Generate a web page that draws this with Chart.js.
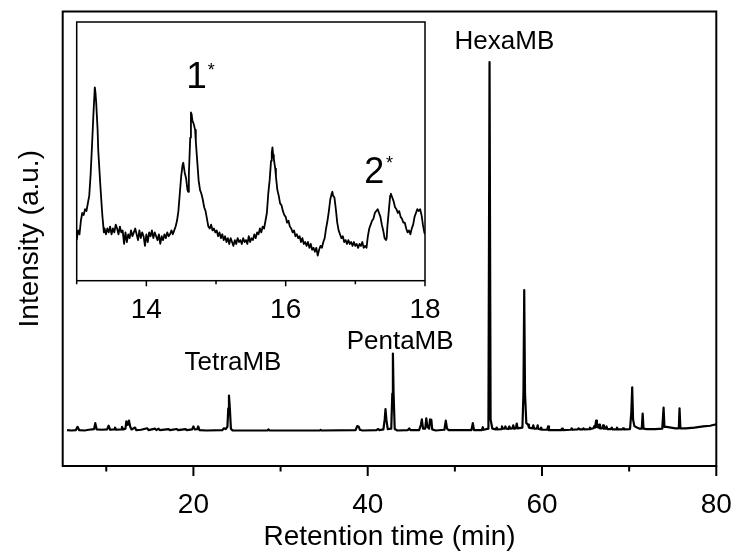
<!DOCTYPE html>
<html>
<head>
<meta charset="utf-8">
<script src="https://cdn.jsdelivr.net/npm/chart.js@4.4.1/dist/chart.umd.min.js"></script>
<style>
  html, body { margin: 0; padding: 0; background: #fff; }
  #wrap { position: relative; width: 737px; height: 555px; }
  #main { position: absolute; left: 0; top: 0; }
  #inset { position: absolute; left: 60px; top: 10px; }
</style>
</head>
<body>
<div id="wrap">
  <canvas id="main" width="737" height="555"></canvas>
  <canvas id="inset" width="390" height="310"></canvas>
</div>
<script>
// chromatogram (intensity scaled so HexaMB = 100)
const mainTime = [
  5.5, 6.0, 6.5, 6.7, 6.9, 7.5, 8.0, 8.6, 8.74, 8.9, 9.5, 10.1, 10.27, 10.45, 10.9, 11.0, 11.15,
  11.7, 11.8, 11.95, 12.2, 12.3, 12.45, 12.6, 12.75, 12.9, 13.3, 13.45, 14.0, 14.7, 14.85,
  15.6, 15.75, 16.0, 16.15, 17.15, 17.3, 18.1, 18.25, 19.1, 19.25, 19.85, 20.0, 20.15, 20.45,
  20.55, 20.7, 21.5, 23.3, 23.5, 23.7, 23.9, 24.0, 24.08, 24.18, 24.3, 24.5, 28.5, 28.6, 28.75,
  34.5, 34.6, 34.7, 38.6, 38.8, 38.95, 39.1, 39.4, 41.0, 41.2, 41.35, 41.8, 41.95, 42.04, 42.14,
  42.3, 42.7, 42.82, 42.89, 42.97, 43.1, 43.4, 44.6, 44.76, 44.9, 45.9, 46.1, 46.21, 46.35,
  46.6, 46.72, 46.85, 47.05, 47.15, 47.3, 47.4, 47.8, 48.8, 48.96, 49.1, 49.3, 51.9, 52.06, 52.2,
  53.1, 53.2, 53.3, 53.85, 53.98, 54.1, 54.3, 54.7, 54.8, 54.9, 55.3, 55.4, 55.5, 55.7, 55.8,
  55.9, 56.15, 56.25, 56.35, 56.6, 56.7, 56.8, 57.0, 57.1, 57.2, 57.75, 57.87, 57.96, 58.05,
  58.2, 58.4, 58.5, 58.9, 59.0, 59.1, 59.4, 59.5, 59.6, 59.85, 59.9, 60.0, 60.6, 60.7, 60.8,
  62.2, 62.3, 62.4, 63.3, 63.4, 63.5, 64.1, 64.2, 64.3, 64.7, 64.75, 64.85, 65.4, 65.5, 65.6,
  65.9, 66.0, 66.1, 66.2, 66.3, 66.45, 66.55, 66.65, 66.9, 67.0, 67.1, 67.3, 67.4, 67.5, 67.9,
  68.0, 68.1, 68.5, 68.6, 68.7, 69.2, 69.3, 69.4, 70.1, 70.25, 70.35, 70.45, 70.6, 70.9, 71.2,
  71.45, 71.55, 71.65, 72.0, 73.0, 73.8, 73.95, 74.05, 74.3, 74.8, 75.3, 75.7, 75.78, 75.88,
  76.5, 77.5, 78.5, 79.3, 80.0
];
const mainIntensity = [
  0.1, 0.0, 0.1, 1.0, 0.1, 0.0, 0.2, 0.4, 2.0, 0.3, 0.2, 0.3, 1.3, 0.2, 0.3, 0.8, 0.2,
  0.3, 1.0, 0.3, 0.5, 2.5, 1.5, 2.7, 1.0, 0.3, 0.8, 0.1, 0.2, 0.6, 0.1,
  0.5, 0.1, 0.5, 0.1, 0.4, 0.1, 0.4, 0.1, 0.4, 0.1, 0.3, 1.1, 0.3, 0.4,
  1.1, 0.1, 0.0, 0.1, 0.6, 0.4, 1.0, 6.0, 9.5, 6.0, 0.5, 0.0, 0.0, 0.3, 0.0,
  0.0, 0.2, 0.0, 0.1, 1.2, 1.1, 0.2, 0.0, 0.1, 0.4, 0.1, 0.3, 3.0, 5.8, 3.0,
  0.4, 0.5, 10, 20.9, 10, 0.4, 0.0, 0.1, 0.6, 0.1, 0.1, 1.5, 3.0, 0.5,
  0.5, 3.3, 1.0, 0.5, 3.0, 2.9, 0.3, 0.0, 0.2, 2.7, 0.5, 0.1, 0.1, 2.0, 0.1,
  0.1, 0.9, 0.2, 0.5, 100, 3.0, 0.5, 0.3, 0.8, 0.3, 0.4, 1.1, 0.5, 0.5, 1.1,
  0.5, 0.4, 1.1, 0.5, 0.6, 1.4, 0.5, 0.6, 1.9, 0.6, 0.8, 10, 38.1, 10,
  2.0, 1.6, 0.8, 0.6, 1.4, 0.5, 0.5, 1.4, 0.4, 0.3, 0.8, 0.2, 0.2, 1.1, 0.1,
  0.1, 0.5, 0.1, 0.2, 0.6, 0.2, 0.3, 0.6, 0.3, 0.3, 0.6, 0.3, 0.4, 0.8, 0.4,
  0.6, 1.2, 0.8, 2.7, 1.0, 0.8, 1.6, 0.6, 0.6, 1.4, 0.5, 0.5, 1.1, 0.4, 0.4,
  0.8, 0.3, 0.3, 0.8, 0.3, 0.3, 0.6, 0.3, 0.4, 5, 11.7, 3.0, 1.2, 0.8, 0.5,
  0.5, 4.6, 0.5, 0.4, 0.4, 0.5, 6.2, 1.0, 1.0, 0.8, 0.6, 0.6, 6.0, 0.6,
  0.6, 0.8, 1.1, 1.3, 1.7
];

// inset: zoom on 13-18 min (intensity scaled so first peak = 100)
const insetTime = [
  13.00, 13.02, 13.04, 13.06, 13.08, 13.10, 13.12, 13.14, 13.16, 13.18, 13.20, 13.22, 13.24,
  13.26, 13.27, 13.28, 13.30, 13.31, 13.33, 13.34, 13.36, 13.37, 13.39, 13.40, 13.42, 13.44,
  13.46, 13.48, 13.50, 13.52, 13.54, 13.56, 13.58, 13.60, 13.62, 13.64, 13.66, 13.68, 13.70,
  13.72, 13.74, 13.76, 13.78, 13.80, 13.82, 13.84, 13.86, 13.88, 13.90, 13.92, 13.94, 13.96,
  13.98, 14.00, 14.02, 14.04, 14.06, 14.08, 14.10, 14.12, 14.14, 14.16, 14.18, 14.20, 14.22,
  14.24, 14.26, 14.28, 14.30, 14.32, 14.34, 14.36, 14.38, 14.40, 14.42, 14.44, 14.46, 14.48,
  14.50, 14.52, 14.53, 14.55, 14.57, 14.59, 14.60, 14.61, 14.63, 14.64, 14.65, 14.66, 14.68,
  14.70, 14.71, 14.73, 14.75, 14.77, 14.79, 14.81, 14.83, 14.85, 14.87, 14.89, 14.91, 14.93,
  14.95, 14.97, 14.99, 15.01, 15.03, 15.05, 15.07, 15.09, 15.11, 15.13, 15.15, 15.17, 15.19,
  15.21, 15.23, 15.25, 15.27, 15.29, 15.31, 15.33, 15.35, 15.37, 15.39, 15.41, 15.43, 15.45,
  15.47, 15.49, 15.51, 15.53, 15.55, 15.57, 15.59, 15.61, 15.63, 15.65, 15.67, 15.69, 15.71,
  15.73, 15.75, 15.77, 15.79, 15.80, 15.81, 15.82, 15.83, 15.85, 15.86, 15.88, 15.90, 15.92,
  15.94, 15.96, 15.98, 16.00, 16.02, 16.04, 16.06, 16.08, 16.10, 16.12, 16.14, 16.16, 16.18,
  16.20, 16.22, 16.24, 16.26, 16.28, 16.30, 16.32, 16.34, 16.36, 16.38, 16.40, 16.42, 16.44,
  16.46, 16.48, 16.50, 16.52, 16.54, 16.56, 16.58, 16.60, 16.62, 16.64, 16.66, 16.67, 16.68,
  16.70, 16.72, 16.74, 16.76, 16.78, 16.80, 16.82, 16.84, 16.86, 16.88, 16.90, 16.92, 16.94,
  16.96, 16.98, 17.00, 17.02, 17.04, 17.06, 17.08, 17.10, 17.12, 17.14, 17.16, 17.18, 17.20,
  17.22, 17.24, 17.26, 17.28, 17.30, 17.32, 17.34, 17.36, 17.38, 17.40, 17.42, 17.44, 17.45,
  17.46, 17.48, 17.50, 17.51, 17.53, 17.55, 17.57, 17.59, 17.61, 17.63, 17.65, 17.67, 17.69,
  17.71, 17.73, 17.75, 17.77, 17.79, 17.81, 17.83, 17.85, 17.87, 17.89, 17.91, 17.93, 17.95,
  17.97, 17.99, 18.00
];
const insetIntensity = [
  21, 26, 24, 31, 35, 34, 37, 36, 40, 44, 55, 70, 86,
  100, 97, 92, 78, 67, 55, 49, 38, 33, 25, 27, 24, 27,
  25, 28, 24, 27, 25, 29, 27, 24, 28, 25, 26, 19, 25,
  20, 24, 22, 26, 23, 25, 27, 24, 21, 26, 22, 25, 23,
  18, 24, 20, 25, 23, 26, 22, 25, 23, 21, 24, 19, 23,
  21, 24, 22, 25, 23, 24, 26, 24, 26, 28, 31, 36, 45,
  54, 60, 61, 56, 53, 47, 46, 55, 74, 87, 86, 83, 81,
  78, 72, 62, 52, 47, 45, 42, 38, 36, 32, 28, 27, 29,
  26, 27, 25, 26, 23, 25, 22, 24, 21, 23, 20, 22, 19,
  22, 20, 18, 21, 19, 22, 20, 21, 19, 22, 20, 21, 19,
  23, 20, 22, 21, 24, 22, 25, 24, 27, 25, 28, 27, 31,
  35, 45, 52, 62, 66, 69, 65, 63, 58, 54, 47, 44, 40,
  39, 36, 34, 33, 30, 31, 28, 27, 25, 26, 23, 24, 22,
  23, 20, 22, 19, 20, 18, 20, 17, 19, 16, 17, 15, 17,
  13, 16, 18, 17, 20, 22, 27, 31, 36, 42, 45, 46, 44,
  43, 37, 30, 26, 24, 22, 23, 20, 21, 19, 21, 19, 20,
  18, 20, 18, 19, 17, 19, 18, 20, 17, 18, 17, 23, 27,
  29, 31, 32, 35, 36, 37, 35, 33, 29, 26, 22, 21, 22,
  28, 36, 44, 45, 43, 41, 38, 37, 35, 36, 33, 32, 30,
  30, 27, 25, 26, 24, 27, 29, 33, 35, 37, 36, 37, 34,
  29, 25, 24
];

const mainMajor = [20, 40, 60, 80];
const mainMinor = [10, 30, 50, 70];
const insetMajor = [14, 16, 18];
const insetMinor = [13, 15, 17];

const peakNames = ['TetraMB', 'PentaMB', 'HexaMB'];
const peakNameTime = [24.54, 43.72, 55.69];
const peakNameLevel = [18.45, 24.15, 105.4];

const insetMarks = ['1', '*', '2', '*'];
const insetMarkTime = [14.72, 14.93, 17.27, 17.49];
const insetMarkLevel = [104.7, 108.4, 55.7, 60.3];
const insetMarkSize = [37, 18, 36, 18];

const FONT = '"Liberation Sans", Arial, Helvetica, sans-serif';
Chart.defaults.font.family = FONT;
Chart.defaults.color = '#000';

function points(xs, ys) {
  return xs.map((t, i) => ({ x: t, y: ys[i] }));
}

// keep the end labels from pushing the plot area inwards
function noSidePadding(s, h) {
  s.height = h;
  s.paddingLeft = 0;
  s.paddingRight = 0;
}

// box round the plot area plus outward ticks on the bottom axis
function frameTicks(major, minor, lineWidth, majorLen, minorLen) {
  return {
    id: 'frameTicks',
    afterDraw(chart) {
      const { ctx, chartArea: a } = chart;
      const x = chart.scales.x;
      ctx.save();
      ctx.strokeStyle = '#000';
      ctx.lineWidth = lineWidth;
      ctx.beginPath();
      major.forEach(v => {
        const p = x.getPixelForValue(v);
        ctx.moveTo(p, a.bottom);
        ctx.lineTo(p, a.bottom + majorLen);
      });
      minor.forEach(v => {
        const p = x.getPixelForValue(v);
        ctx.moveTo(p, a.bottom);
        ctx.lineTo(p, a.bottom + minorLen);
      });
      ctx.stroke();
      ctx.strokeRect(a.left, a.top, a.right - a.left, a.bottom - a.top);
      ctx.restore();
    }
  };
}

function textMarks(texts, xs, ys, sizes) {
  return {
    id: 'textMarks',
    afterDatasetsDraw(chart) {
      const { ctx } = chart;
      const { x, y } = chart.scales;
      ctx.save();
      ctx.fillStyle = '#000';
      ctx.textAlign = 'center';
      ctx.textBaseline = 'middle';
      texts.forEach((t, i) => {
        ctx.font = sizes[i] + 'px ' + FONT;
        ctx.fillText(t, x.getPixelForValue(xs[i]), y.getPixelForValue(ys[i]));
      });
      ctx.restore();
    }
  };
}

new Chart(document.getElementById('main'), {
  type: 'line',
  data: {
    datasets: [{
      data: points(mainTime, mainIntensity),
      borderColor: '#000',
      borderWidth: 2.2,
      borderJoinStyle: 'round',
      pointRadius: 0,
      tension: 0,
      fill: false
    }]
  },
  options: {
    responsive: false,
    animation: false,
    devicePixelRatio: 1,
    layout: { padding: { top: 11.5, right: 20.7, bottom: 0, left: 0 } },
    plugins: { legend: { display: false }, tooltip: { enabled: false } },
    scales: {
      x: {
        type: 'linear',
        min: 5,
        max: 80,
        grid: { display: false },
        border: { display: false },
        afterBuildTicks: s => { s.ticks = mainMajor.map(v => ({ value: v })); },
        afterFit: s => noSidePadding(s, 89),
        ticks: { padding: 14.2, font: { size: 28 }, maxRotation: 0 },
        title: {
          display: true,
          text: 'Retention time (min)',
          font: { size: 28 },
          padding: { top: 0, bottom: 1.2 }
        }
      },
      y: {
        min: -9.63,
        max: 113.7,
        grid: { display: false },
        border: { display: false },
        ticks: { display: false },
        afterFit: s => { s.width = 62.7; },
        title: {
          display: true,
          text: 'Intensity (a.u.)',
          font: { size: 28 },
          padding: { top: 13.2, bottom: 0 }
        }
      }
    }
  },
  plugins: [
    frameTicks(mainMajor, mainMinor, 2, 10, 5.5),
    textMarks(peakNames, peakNameTime, peakNameLevel, [26, 26, 26])
  ]
});

new Chart(document.getElementById('inset'), {
  type: 'line',
  data: {
    datasets: [{
      data: points(insetTime, insetIntensity),
      borderColor: '#000',
      borderWidth: 1.8,
      borderJoinStyle: 'round',
      pointRadius: 0,
      tension: 0,
      fill: false
    }]
  },
  options: {
    responsive: false,
    animation: false,
    devicePixelRatio: 1,
    layout: { padding: { top: 12, right: 25, bottom: 0, left: 16.7 } },
    plugins: { legend: { display: false }, tooltip: { enabled: false } },
    scales: {
      x: {
        type: 'linear',
        min: 13,
        max: 18,
        grid: { display: false },
        border: { display: false },
        afterBuildTicks: s => { s.ticks = insetMajor.map(v => ({ value: v })); },
        afterFit: s => noSidePadding(s, 39.3),
        ticks: { padding: 4.5, font: { size: 28 }, maxRotation: 0 }
      },
      y: {
        display: false,
        min: 0,
        max: 133.8
      }
    }
  },
  plugins: [
    frameTicks(insetMajor, insetMinor, 1.5, 5.5, 3.5),
    textMarks(insetMarks, insetMarkTime, insetMarkLevel, insetMarkSize)
  ]
});
</script>
</body>
</html>
